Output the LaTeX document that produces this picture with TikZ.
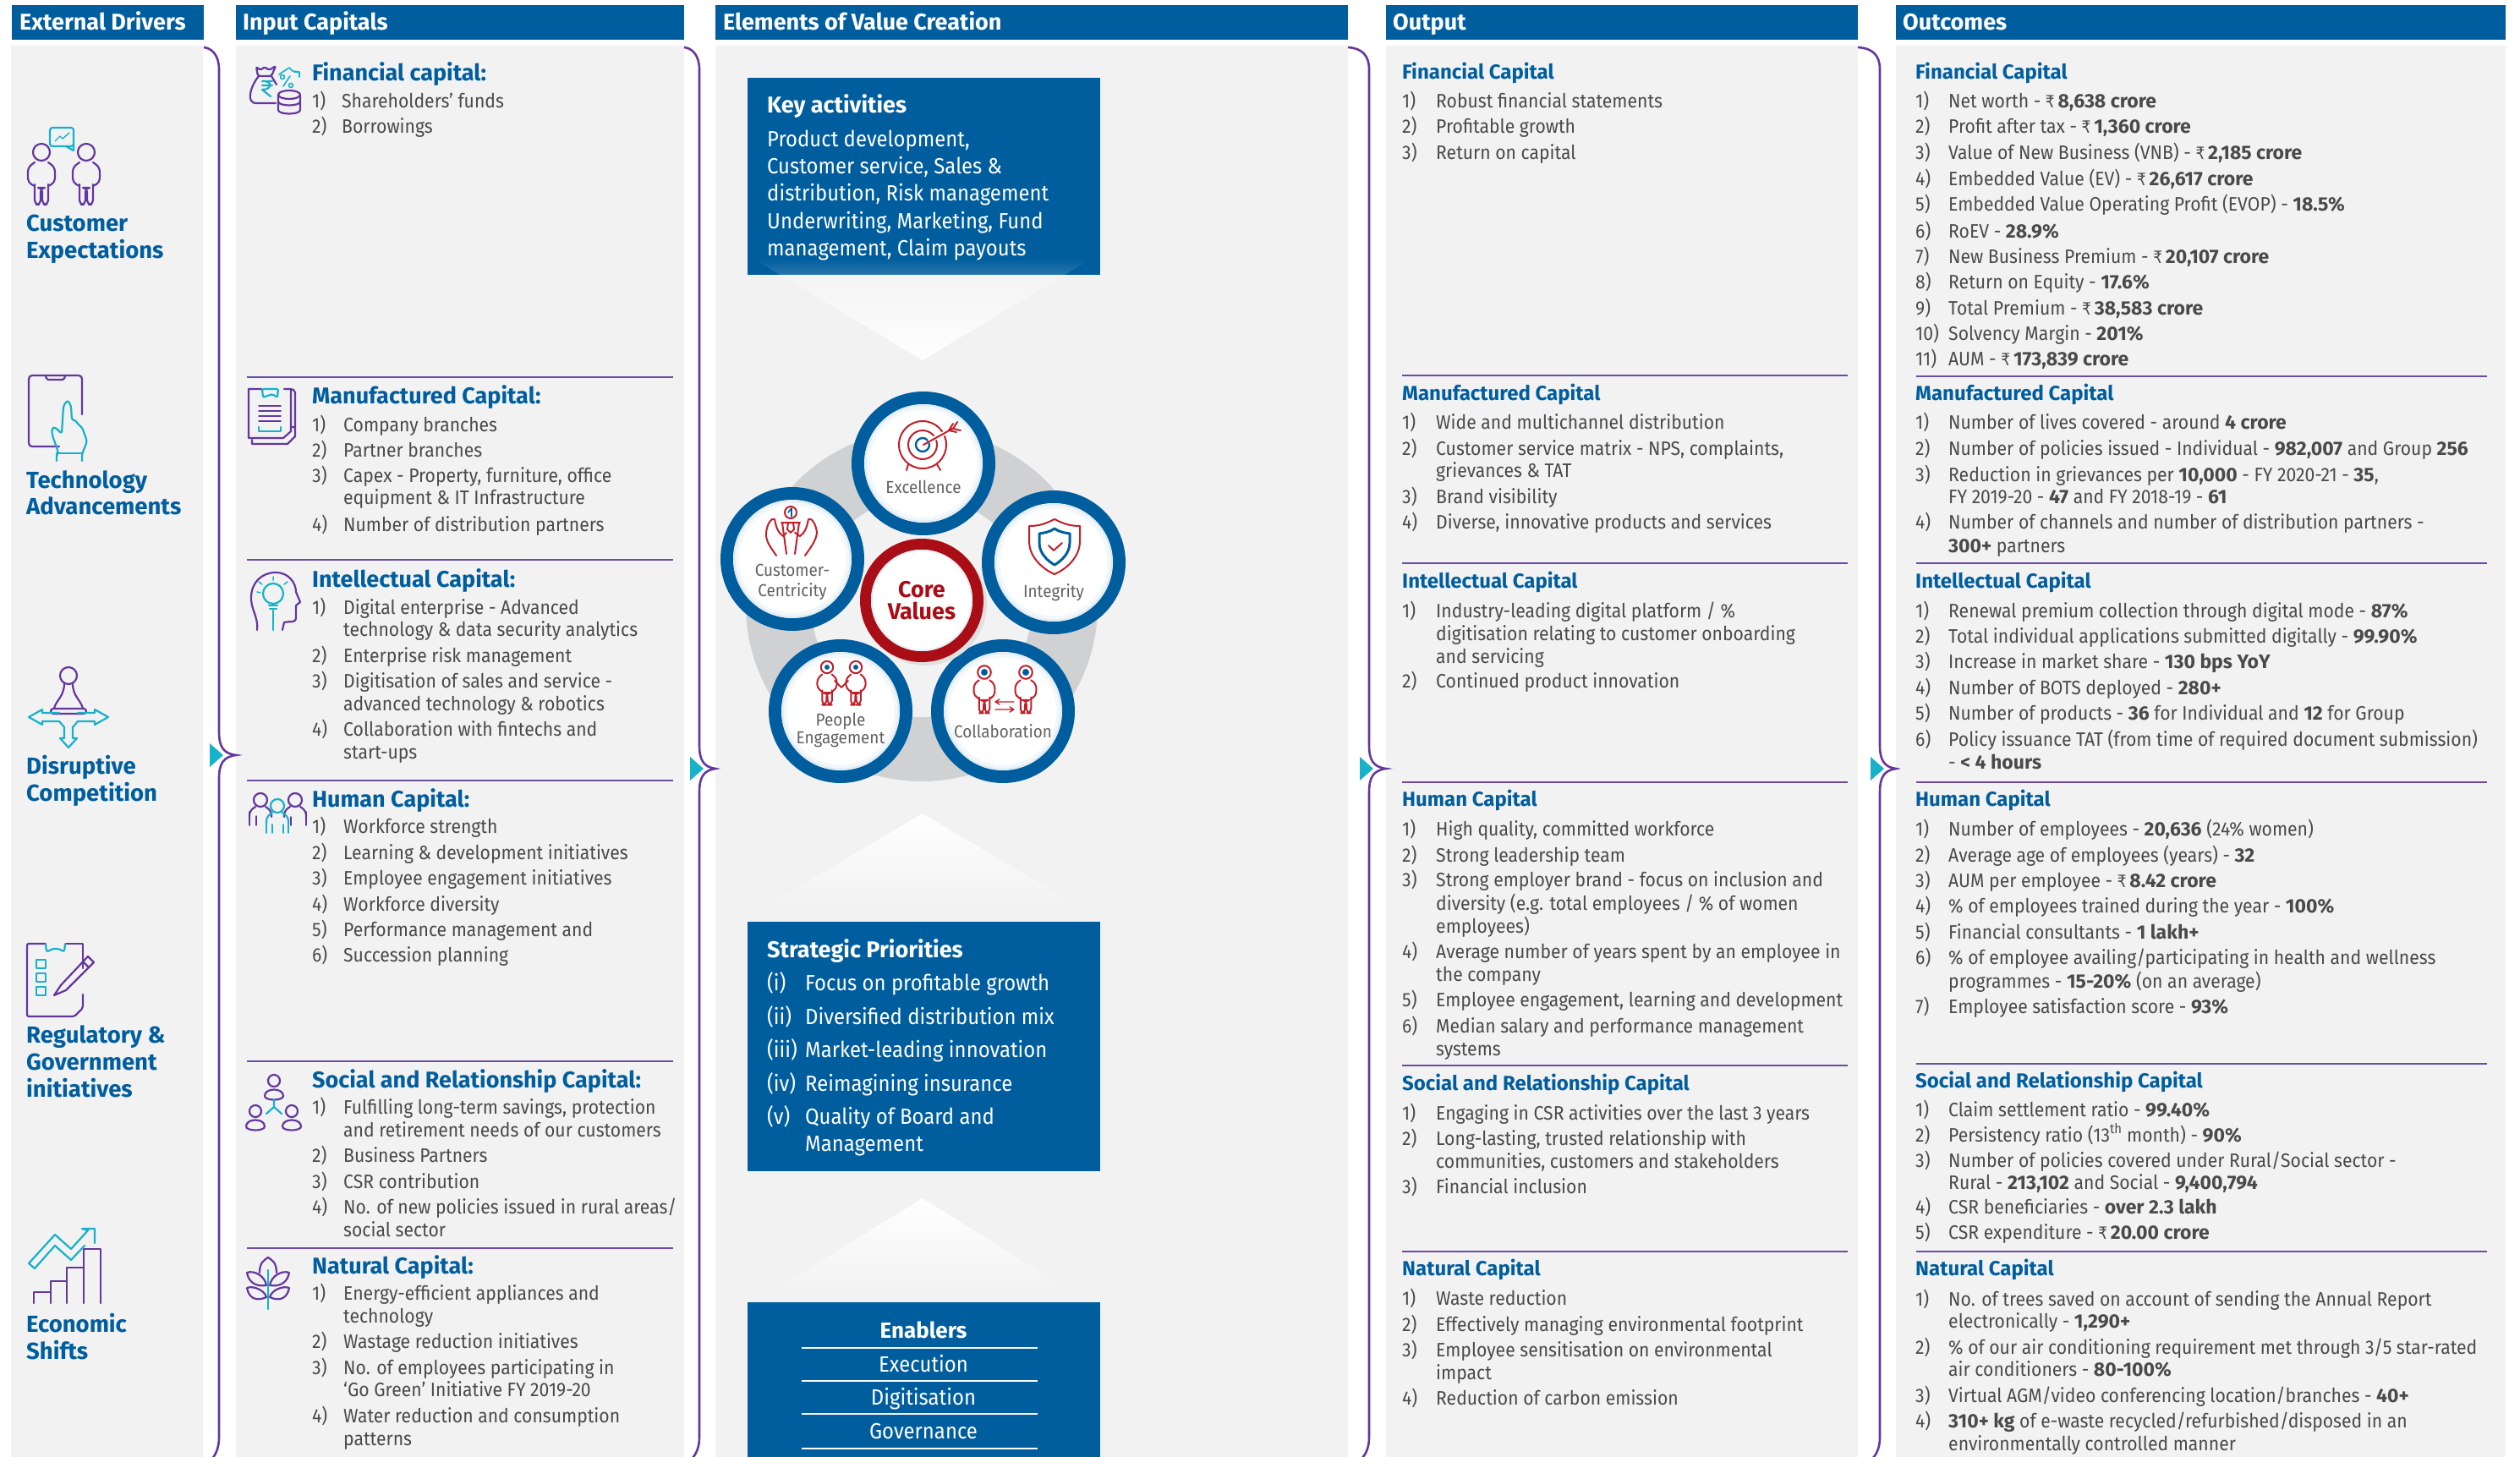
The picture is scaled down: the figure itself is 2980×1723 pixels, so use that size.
\documentclass[tikz,border=0pt]{standalone}
\usepackage{fontspec}
\setmainfont{Fira Sans}[UprightFeatures={FakeStretch=0.92},BoldFeatures={FakeStretch=1.0}]
\newfontfamily\rupfont{DejaVu Sans}[FakeStretch=0.85]
\usetikzlibrary{fadings}
\definecolor{hblue}{HTML}{005E9E}
\definecolor{panel}{HTML}{F2F2F2}
\definecolor{ipurple}{HTML}{64379F}
\definecolor{icyan}{HTML}{17B1C9}
\definecolor{ired}{HTML}{C0202A}
\definecolor{corered}{HTML}{A90D16}
\definecolor{bodytext}{HTML}{4A4A4A}
\definecolor{ringgrey}{HTML}{D0D1D3}
\definecolor{rulepur}{HTML}{6B4CA2}
\tikzfading[name=fadedown, top color=transparent!100, middle color=transparent!0, bottom color=transparent!0]
\tikzfading[name=fadeup, top color=transparent!0, middle color=transparent!0, bottom color=transparent!100]
\newcounter{ncnt}
\newcommand{\rs}{{\rupfont\fontsize{20}{20}\selectfont ₹}}
\newcommand{\capNX}{0}\newcommand{\capTX}{0}
\newcommand{\capH}[3]{\stepcounter{ncnt}\node[#1] (n\arabic{ncnt}) at (\capNX,#2+8) {#3};}
\newcommand{\capI}[3]{\stepcounter{ncnt}\node[bodytx] (n\arabic{ncnt}) at (\capNX,#1+8) {#2};\stepcounter{ncnt}\node[bodytx] (n\arabic{ncnt}) at (\capTX,#1+8) {#3};}
\newcommand{\capC}[2]{\stepcounter{ncnt}\node[bodytx] (n\arabic{ncnt}) at (\capTX,#1+8) {#2};}
\newcommand{\capR}[3]{\stepcounter{ncnt}\coordinate (n\arabic{ncnt}) at (#1,#3);\stepcounter{ncnt}\coordinate (n\arabic{ncnt}) at (#2,#3);\draw[rulestyle] (n\the\numexpr\value{ncnt}-1\relax) -- (n\arabic{ncnt});}
\newcommand{\brk}[5]{% x0, xv, xt, ytip, xbottom
 \coordinate (b#1) at (#1,56);
 \coordinate (t#1) at (#3,#4);
 \draw[purplebrace] (b#1) .. controls (#2-8,57) and (#2,66) .. (#2,82) -- (#2,#4-28) .. controls (#2,#4-10) and (#2+5,#4-2) .. (t#1) .. controls (#2+5,#4+2) and (#2,#4+10) .. (#2,#4+28) -- (#2,1700) .. controls (#2,1712) and (#2-4,1720) .. (#5,1725);
 \fill[icyan] (#2-11,#4-14) -- (#2+5,#4) -- (#2-11,#4+14) -- cycle;}
\tikzset{
 x=1pt,y=-1pt,
 hdrtx/.style={text=white,font=\fontsize{27}{27}\selectfont\bfseries,anchor=base west,inner sep=0},
 bodytx/.style={text=bodytext,font=\fontsize{23}{23}\selectfont,anchor=base west,inner sep=0},
 headA/.style={text=hblue,font=\fontsize{27}{27}\selectfont\bfseries,anchor=base west,inner sep=0},
 headB/.style={text=hblue,font=\fontsize{24}{24}\selectfont\bfseries,anchor=base west,inner sep=0},
 drv/.style={text=hblue,font=\fontsize{27.5}{27.5}\selectfont\bfseries,anchor=base west,inner sep=0},
 boxtx/.style={text=white,font=\fontsize{26}{26}\selectfont,anchor=base west,inner sep=0},
 boxhd/.style={text=white,font=\fontsize{27}{27}\selectfont\bfseries,anchor=base west,inner sep=0},
 stx/.style={text=white,font=\fontsize{26}{26}\selectfont,anchor=base west,inner sep=0},
 enb/.style={text=white,font=\fontsize{26}{26}\selectfont,anchor=base,inner sep=0},
 valtx/.style={text=black!62,font=\fontsize{20.5}{20.5}\selectfont,anchor=base,inner sep=0},
 rulestyle/.style={draw=rulepur,line width=1.6},
 purplebrace/.style={draw=ipurple,line width=2.6},
 pur/.style={draw=ipurple,line width=2.2,line join=round,line cap=round},
 cy/.style={draw=icyan,line width=2.2,line join=round,line cap=round},
 rd/.style={draw=ired,line width=2,line join=round,line cap=round},
 bl/.style={draw=hblue,line width=2.4,line join=round,line cap=round},
 pics/person/.style={code={
   \draw[pic actions] (0,0) circle (10);
   \draw[pic actions,rounded corners=5] (-8,38) -- (-8,62) -- (-1,62) -- (-1,42) -- (1,42) -- (1,62) -- (8,62) -- (8,38);
   \draw[pic actions,rounded corners=5] (-8,40) -- (-16,36) -- (-16,18) -- (-8,12) (8,12) -- (16,18) -- (16,36) -- (8,40);
 }},
 pics/bust/.style={code={
   \draw[pic actions] (0,0) circle (8);
   \draw[pic actions,rounded corners=5] (-13,20) -- (-13,13) -- (-6,8) (6,8) -- (13,13) -- (13,20);
 }},
 pics/smallp/.style={code={
   \draw[pic actions] (0,0) circle (7);
   \draw[pic actions] (-11,18) .. controls (-11,8) and (11,8) .. (11,18) .. controls (11,24) and (-11,24) .. (-11,18);
 }},
}
\begin{document}
\begin{tikzpicture}
\useasboundingbox (0,0) rectangle (2980,1723);
\fill[white] (0,0) rectangle (2980,1723);
% panels
\fill[panel] (13,54) rectangle (240,1723);
\fill[panel] (279,54) rectangle (809,1723);
\fill[panel] (846,54) rectangle (1594,1723);
\fill[panel] (1639,54) rectangle (2197,1723);
\fill[panel] (2242,54) rectangle (2963,1723);
% headers
\fill[hblue] (14,6) rectangle (241,47);
\fill[hblue] (279,6) rectangle (809,47);
\fill[hblue] (846,6) rectangle (1594,47);
\fill[hblue] (1639,6) rectangle (2197,47);
\fill[hblue] (2242,6) rectangle (2963,47);
\node[hdrtx] (h1) at (23,36) {External Drivers};
\node[hdrtx] (h2) at (287,36) {Input Capitals};
\node[hdrtx] (h3) at (855,36) {Elements of Value Creation};
\node[hdrtx] (h4) at (1647,36) {Output};
\node[hdrtx] (h5) at (2250,36) {Outcomes};
% braces
\brk{241}{259}{279}{893}{251}
\brk{809}{827}{846}{909}{818}
\brk{1594}{1619}{1639}{909}{1610}
\brk{2197}{2223}{2242}{909}{2214}
% external drivers
\node[drv] (d1a) at (31,273) {Customer};
\node[drv] (d1b) at (31,305) {Expectations};
\node[drv] (d2a) at (31,577) {Technology};
\node[drv] (d2b) at (31,608) {Advancements};
\node[drv] (d3a) at (31,915) {Disruptive};
\node[drv] (d3b) at (31,947) {Competition};
\node[drv] (d4a) at (31,1233) {Regulatory \&};
\node[drv] (d4b) at (31,1265) {Government};
\node[drv] (d4c) at (31,1297) {initiatives};
\node[drv] (d5a) at (31,1575) {Economic};
\node[drv] (d5b) at (31,1607) {Shifts};
% driver icons
\pic[pur] at (49,180) {person};
\pic[pur] at (102,180) {person};
\draw[cy,rounded corners=3] (59,151) rectangle (87,173);
\draw[cy] (78,173) -- (87,178) -- (87,170);
\draw[cy,line width=1.4] (65,167) -- (71,161) -- (74,164) -- (82,157);
\draw[pur,rounded corners=4] (70,528) -- (34,528) -- (34,444) -- (97,444) -- (97,490);
\draw[pur,rounded corners=2] (54,444) -- (55,449) -- (76,449) -- (77,444);
\draw[cy,rounded corners=3] (67,545) -- (67,537) -- (69,535) -- (62,515) -- (61,507) -- (65,505) -- (73,513) -- (75,480) -- (80,473) -- (84,480) -- (85,497) -- (90,497) -- (92,502) -- (97,505) -- (103,522) -- (97,537) -- (97,545);
\draw[cy] (68,536) -- (97,536);
% pawn
\draw[pur] (81,799) circle (10);
\draw[pur] (76,808) .. controls (76,824) and (66,828) .. (64,838) (86,808) .. controls (86,824) and (96,828) .. (98,838);
\draw[pur,rounded corners=3] (60,838) rectangle (102,844);
\draw[cy] (70,843) -- (50,843) -- (50,839) -- (34,848) -- (50,857) -- (50,853) -- (70,853) -- (76,860) -- (76,873) -- (71,873) -- (81,884) -- (91,873) -- (86,873) -- (86,860) -- (92,853) -- (112,853) -- (112,857) -- (128,848) -- (112,839) -- (112,843) -- (92,843);
% checklist
\draw[pur,rounded corners=2] (54,1116) -- (32,1116) -- (32,1202) -- (88,1202) -- (98,1192) -- (98,1176);
\draw[pur] (78,1116) -- (98,1116) -- (98,1145);
\draw[cy,rounded corners=3] (54,1116) -- (55,1126) -- (62,1122) -- (70,1122) -- (76,1126) -- (77,1116);
\draw[cy] (43,1135) rectangle (54,1145);
\draw[cy] (43,1151) rectangle (54,1161);
\draw[cy] (43,1167) rectangle (54,1177);
\draw[pur] (64,1177) -- (72,1165) -- (104,1131) -- (111,1138) -- (78,1171) -- cycle;
\draw[pur] (98,1137) -- (105,1144);
% economic
\draw[pur] (40,1541) -- (40,1528) -- (60,1528) (60,1541) -- (60,1515) -- (79,1515) (79,1541) -- (79,1499) -- (99,1499) (99,1541) -- (99,1477) -- (119,1477) -- (119,1541);
\draw[cy] (34,1494) -- (65,1460) -- (84,1477) -- (104,1455) -- (97,1453) -- (112,1453) -- (112,1470) (34,1494) -- (41,1500) -- (65,1473) -- (84,1490) -- (100,1473);
% input capitals
\renewcommand{\capNX}{369}\renewcommand{\capTX}{404}
\capH{headA}{88}{Financial capital:}
\capI{120}{1)}{Shareholders’ funds}
\capI{150}{2)}{Borrowings}
\capR{292}{796}{446}
\renewcommand{\capTX}{406}
\capH{headA}{469}{Manufactured Capital:}
\capI{502}{1)}{Company branches}
\capI{532}{2)}{Partner branches}
\capI{562}{3)}{Capex - Property, furniture, office}
\capC{588}{equipment \& IT Infrastructure}
\capI{620}{4)}{Number of distribution partners}
\capR{292}{796}{662}
\capH{headA}{686}{Intellectual Capital:}
\capI{718}{1)}{Digital enterprise - Advanced}
\capC{744}{technology \& data security analytics}
\capI{775}{2)}{Enterprise risk management}
\capI{805}{3)}{Digitisation of sales and service -}
\capC{832}{advanced technology \& robotics}
\capI{862}{4)}{Collaboration with fintechs and}
\capC{889}{start-ups}
\capR{292}{796}{923}
\capH{headA}{946}{Human Capital:}
\capI{977}{1)}{Workforce strength}
\capI{1008}{2)}{Learning \& development initiatives}
\capI{1038}{3)}{Employee engagement initiatives}
\capI{1069}{4)}{Workforce diversity}
\capI{1099}{5)}{Performance management and}
\capI{1129}{6)}{Succession planning}
\capR{292}{796}{1255}
\capH{headA}{1278}{Social and Relationship Capital:}
\capI{1309}{1)}{Fulfilling long-term savings, protection}
\capC{1336}{and retirement needs of our customers}
\capI{1366}{2)}{Business Partners}
\capI{1397}{3)}{CSR contribution}
\capI{1427}{4)}{No. of new policies issued in rural areas/}
\capC{1454}{social sector}
\capR{292}{796}{1476}
\capH{headA}{1498}{Natural Capital:}
\capI{1529}{1)}{Energy-efficient appliances and}
\capC{1556}{technology}
\capI{1586}{2)}{Wastage reduction initiatives}
\capI{1617}{3)}{No. of employees participating in}
\capC{1643}{‘Go Green’ Initiative FY 2019-20}
\capI{1674}{4)}{Water reduction and consumption}
\capC{1701}{patterns}
% input icons
\draw[pur,rounded corners=2] (303,79) -- (308,83) -- (313,79) -- (318,83) -- (326,78) -- (321,90) -- (305,90) -- cycle;
\draw[pur] (306,90) .. controls (296,102) and (290,123) .. (304,122) -- (326,122);
\draw[pur] (321,90) -- (327,100);
\draw[cy] (310,96) -- (322,96) (310,101) -- (322,101) (312,96) .. controls (322,96) and (322,106) .. (310,106) -- (320,114);
\draw[cy,line width=1.6] (335,102) -- (343,90) (334,91) circle (2.5) (344,101) circle (2.5) (330,88) -- (342,80) -- (346,84) -- (354,85) (354,85) -- (348,85) (354,85) -- (354,91);
\draw[pur] (342,112) ellipse (13 and 5);
\draw[pur] (329,112) -- (329,130) .. controls (329,136) and (355,136) .. (355,130) -- (355,112) (329,120) .. controls (329,126) and (355,126) .. (355,120);
% manufactured
\draw[pur] (309,460) -- (294,460) -- (294,518) -- (335,518) -- (344,510) -- (344,460) -- (336,460);
\draw[pur] (344,505) -- (349,505) -- (349,516) -- (340,525) -- (298,525) -- (298,520);
\draw[pur,rounded corners=2] (349,505) -- (349,462) -- (344,460);
\draw[cy,rounded corners=2] (310,460) -- (311,470) -- (322,466) -- (328,470) -- (329,460) -- cycle;
\draw[pur,line width=1.5] (306,480) -- (332,480) (306,486) -- (332,486) (306,492) -- (332,492) (306,498) -- (332,498);
\draw[cy] (306,505) -- (306,510) -- (332,510) -- (332,505);
% intellectual
\draw[pur] (304,745) .. controls (306,730) and (296,720) .. (297,705) .. controls (298,688) and (310,677) .. (326,677) .. controls (342,677) and (350,690) .. (350,700) -- (355,712) -- (350,716) -- (350,730) .. controls (350,738) and (342,734) .. (336,736) -- (334,745);
\draw[cy] (323,702) circle (12);
\draw[cy] (318,716) -- (328,716) (319,720) -- (327,720) (323,722) -- (323,745);
\draw[cy,line width=1.5] (323,686) -- (323,682) (310,691) -- (306,688) (336,691) -- (340,688) (304,700) -- (308,701);
% human
\pic[pur] at (308,946) {bust};
\pic[pur] at (349,946) {bust};
\pic[cy] at (328,953) {bust};
\draw[pur,line width=1.5] (295,960) -- (295,976) (303,965) -- (303,976) (344,976) -- (344,966) (362,960) -- (362,976);
\draw[cy,line width=1.5] (315,972) -- (315,985) (322,975) -- (322,985) (335,975) -- (335,985) (341,972) -- (341,985);
% social
\pic[pur] at (324,1278) {smallp};
\pic[pur] at (302,1314) {smallp};
\pic[pur] at (345,1314) {smallp};
\draw[cy] (324,1300) -- (324,1309) -- (315,1317) (324,1309) -- (333,1317);
% natural
\draw[pur] (307,1505) .. controls (307,1492) and (313,1490) .. (317,1487) .. controls (321,1490) and (327,1492) .. (327,1505);
\draw[pur] (292,1505) .. controls (300,1502) and (313,1508) .. (315,1520) .. controls (302,1522) and (294,1516) .. (292,1505);
\draw[pur] (342,1505) .. controls (334,1502) and (321,1508) .. (319,1520) .. controls (332,1522) and (340,1516) .. (342,1505);
\draw[pur] (292,1523) .. controls (300,1520) and (313,1526) .. (315,1534) .. controls (302,1540) and (294,1534) .. (292,1523);
\draw[pur] (342,1523) .. controls (334,1520) and (321,1526) .. (319,1534) .. controls (332,1540) and (340,1534) .. (342,1523);
\draw[cy] (317,1502) -- (317,1548);
% elements - arrows
\fill[hblue] (884,92) rectangle (1301,325);
\fill[white,path fading=fadedown] (891,306) -- (1291,306) -- (1091,426) -- cycle;
\fill[white,path fading=fadeup] (1091,962) -- (1284,1077) -- (897,1077) -- cycle;
\fill[white,path fading=fadeup] (1091,1417) -- (1284,1537) -- (897,1537) -- cycle;
\node[boxhd] (ka) at (907,134) {Key activities};
\node[boxtx] (ka1) at (907,174) {Product development,};
\node[boxtx] (ka2) at (907,206) {Customer service, Sales \&};
\node[boxtx] (ka3) at (907,238) {distribution, Risk management};
\node[boxtx] (ka4) at (907,270) {Underwriting, Marketing, Fund};
\node[boxtx] (ka5) at (907,302) {management, Claim payouts};
\fill[hblue] (884,1090) rectangle (1301,1385);
\node[boxhd] (sp) at (907,1132) {Strategic Priorities};
\node[stx] (s1a) at (907,1171) {(i)};\node[stx] (s1) at (952,1171) {Focus on profitable growth};
\node[stx] (s2a) at (907,1211) {(ii)};\node[stx] (s2) at (952,1211) {Diversified distribution mix};
\node[stx] (s3a) at (907,1250) {(iii)};\node[stx] (s3) at (952,1250) {Market-leading innovation};
\node[stx] (s4a) at (907,1290) {(iv)};\node[stx] (s4) at (952,1290) {Reimagining insurance};
\node[stx] (s5a) at (907,1329) {(v)};\node[stx] (s5) at (952,1329) {Quality of Board and};
\node[stx] (s6) at (952,1361) {Management};
\fill[hblue] (884,1540) rectangle (1301,1723);
\node[enb,font=\fontsize{26}{26}\selectfont\bfseries] (en) at (1092,1582) {Enablers};
\node[enb] (en1) at (1092,1622) {Execution};
\node[enb] (en2) at (1092,1661) {Digitisation};
\node[enb] (en3) at (1092,1701) {Governance};
\coordinate (r1a) at (948,1594);\coordinate (r1b) at (1227,1594);
\coordinate (r2a) at (948,1633);\coordinate (r2b) at (1227,1633);
\coordinate (r3a) at (948,1672);\coordinate (r3b) at (1227,1672);
\coordinate (r4a) at (948,1713);\coordinate (r4b) at (1227,1713);
\draw[white,line width=1.4] (r1a) -- (r1b) (r2a) -- (r2b) (r3a) -- (r3b) (r4a) -- (r4b);
% core values ring
\fill[ringgrey] (1090,716) circle (208);
\fill[panel] (1090,718) circle (130);
\foreach \cx/\cy in {1092/548,937/661,1246/665,994/841,1186/841}{
 \fill[hblue] (\cx,\cy) circle (85);
 \fill[white] (\cx,\cy) circle (70);
 \draw[hblue!12!white,line width=2.5] (\cx,\cy) circle (68.5);
 \draw[hblue!5!white,line width=4] (\cx,\cy) circle (65.5);
}
\fill[black!12] (1094,714) circle (73);
\fill[corered] (1090,710) circle (73);
\fill[white] (1090,710) circle (60);
\draw[hblue!10!white,line width=2] (1090,710) circle (59);
\node[valtx] (c1) at (1092,583) {Excellence};
\node[valtx] (c2a) at (937,681) {Customer-};
\node[valtx] (c2b) at (937,705) {Centricity};
\node[valtx] (c3) at (1246,706) {Integrity};
\node[valtx] (c4a) at (994,858) {People};
\node[valtx] (c4b) at (994,879) {Engagement};
\node[valtx] (c5) at (1186,872) {Collaboration};
\node[enb,text=corered,font=\fontsize{27}{27}\selectfont\bfseries] (core1) at (1090,706) {Core};
\node[enb,text=corered,font=\fontsize{27}{27}\selectfont\bfseries] (core2) at (1090,732) {Values};
% excellence icon
\draw[rd] (1091,526) circle (28);
\draw[rd] (1091,526) circle (17);
\draw[bl] (1091,526) circle (8);
\draw[white,line width=5] (1098,522) -- (1125,508);
\draw[rd] (1092,526) -- (1128,506) (1127,501) -- (1122,509) -- (1131,511) (1132,499) -- (1127,507) -- (1136,509);
\draw[rd] (1074,549) -- (1072,556) (1108,549) -- (1112,556);
% customer icon
\draw[rd] (935,606) circle (7);
\draw[bl,line width=1.6] (932,606) -- (936,601) -- (936,611);
\draw[rd] (932,618) -- (938,618) -- (939,626) -- (935,630) -- (931,626) -- cycle;
\draw[rd] (924,618) -- (946,618) (925,618) -- (930,655) (945,618) -- (940,655);
\draw[rd] (918,657) .. controls (912,648) and (905,640) .. (906,630) .. controls (907,620) and (912,612) .. (916,614) .. controls (918,624) and (920,630) .. (926,634) -- (930,630);
\draw[rd] (952,657) .. controls (958,648) and (965,640) .. (966,630) .. controls (965,620) and (960,612) .. (956,614) .. controls (954,624) and (952,630) .. (946,634) -- (940,630);
% integrity icon
\draw[rd] (1247,614) .. controls (1235,620) and (1228,622) .. (1217,622) -- (1217,640) .. controls (1217,660) and (1235,674) .. (1247,679) .. controls (1259,674) and (1277,660) .. (1277,640) -- (1277,622) .. controls (1266,622) and (1259,620) .. (1247,614);
\draw[bl,line width=3] (1247,625) .. controls (1240,630) and (1234,630) .. (1229,631) -- (1229,642) .. controls (1229,655) and (1240,664) .. (1247,668) .. controls (1254,664) and (1265,655) .. (1265,642) -- (1265,631) .. controls (1260,630) and (1254,630) .. (1247,625);
\draw[rd] (1240,645) -- (1246,651) -- (1256,642);
% people icon
\pic[rd,scale=.72] at (978,789) {person};
\pic[rd,scale=.72] at (1012,789) {person};
\draw[rd] (987,805) -- (995,813) -- (1003,805);
\fill[hblue] (978,789) circle (3) (1012,789) circle (3);
% collaboration icon
\pic[rd,scale=.78] at (1164,795) {person};
\pic[rd,scale=.78] at (1213,795) {person};
\fill[hblue] (1164,795) circle (4) (1213,795) circle (4);
\draw[rd,line width=1.4] (1177,830) -- (1199,830) (1177,830) -- (1182,827) (1177,830) -- (1182,833) (1177,839) -- (1199,839) (1199,839) -- (1194,836) (1199,839) -- (1194,842);
% output
\renewcommand{\capNX}{1658}\renewcommand{\capTX}{1698}
\capH{headB}{86}{Financial Capital}
\capI{120}{1)}{Robust financial statements}
\capI{150}{2)}{Profitable growth}
\capI{181}{3)}{Return on capital}
\capR{1658}{2185}{444}
\capH{headB}{465}{Manufactured Capital}
\capI{499}{1)}{Wide and multichannel distribution}
\capI{530}{2)}{Customer service matrix - NPS, complaints,}
\capC{556}{grievances \& TAT}
\capI{587}{3)}{Brand visibility}
\capI{617}{4)}{Diverse, innovative products and services}
\capR{1658}{2185}{666}
\capH{headB}{687}{Intellectual Capital}
\capI{722}{1)}{Industry-leading digital platform / \%}
\capC{749}{digitisation relating to customer onboarding}
\capC{776}{and servicing}
\capI{805}{2)}{Continued product innovation}
\capR{1658}{2185}{925}
\capH{headB}{945}{Human Capital}
\capI{980}{1)}{High quality, committed workforce}
\capI{1011}{2)}{Strong leadership team}
\capI{1040}{3)}{Strong employer brand - focus on inclusion and}
\capC{1068}{diversity (e.g. total employees / \% of women}
\capC{1095}{employees)}
\capI{1125}{4)}{Average number of years spent by an employee in}
\capC{1152}{the company}
\capI{1182}{5)}{Employee engagement, learning and development}
\capI{1213}{6)}{Median salary and performance management}
\capC{1240}{systems}
\capR{1658}{2185}{1260}
\capH{headB}{1281}{Social and Relationship Capital}
\capI{1316}{1)}{Engaging in CSR activities over the last 3 years}
\capI{1346}{2)}{Long-lasting, trusted relationship with}
\capC{1373}{communities, customers and stakeholders}
\capI{1403}{3)}{Financial inclusion}
\capR{1658}{2185}{1480}
\capH{headB}{1500}{Natural Capital}
\capI{1535}{1)}{Waste reduction}
\capI{1566}{2)}{Effectively managing environmental footprint}
\capI{1596}{3)}{Employee sensitisation on environmental}
\capC{1623}{impact}
\capI{1653}{4)}{Reduction of carbon emission}
% outcomes
\renewcommand{\capNX}{2265}\renewcommand{\capTX}{2304}
\capH{headB}{86}{Financial Capital}
\capI{120}{1)}{Net worth - \rs\,\textbf{8,638 crore}}
\capI{150}{2)}{Profit after tax - \rs\,\textbf{1,360 crore}}
\capI{181}{3)}{Value of New Business (VNB) - \rs\,\textbf{2,185 crore}}
\capI{212}{4)}{Embedded Value (EV) - \rs\,\textbf{26,617 crore}}
\capI{242}{5)}{Embedded Value Operating Profit (EVOP) - \textbf{18.5\%}}
\capI{273}{6)}{RoEV - \textbf{28.9\%}}
\capI{303}{7)}{New Business Premium - \rs\,\textbf{20,107 crore}}
\capI{333}{8)}{Return on Equity - \textbf{17.6\%}}
\capI{364}{9)}{Total Premium - \rs\,\textbf{38,583 crore}}
\capI{394}{10)}{Solvency Margin - \textbf{201\%}}
\capI{424}{11)}{AUM - \rs\,\textbf{173,839 crore}}
\capR{2266}{2941}{445}
\capH{headB}{465}{Manufactured Capital}
\capI{499}{1)}{Number of lives covered - around \textbf{4 crore}}
\capI{530}{2)}{Number of policies issued - Individual - \textbf{982,007} and Group \textbf{256}}
\capI{561}{3)}{Reduction in grievances per \textbf{10,000} - FY 2020-21 - \textbf{35},}
\capC{587}{FY 2019-20 - \textbf{47} and FY 2018-19 - \textbf{61}}
\capI{617}{4)}{Number of channels and number of distribution partners -}
\capC{645}{\textbf{300+} partners}
\capR{2266}{2941}{666}
\capH{headB}{687}{Intellectual Capital}
\capI{722}{1)}{Renewal premium collection through digital mode - \textbf{87\%}}
\capI{752}{2)}{Total individual applications submitted digitally - \textbf{99.90\%}}
\capI{782}{3)}{Increase in market share - \textbf{130 bps YoY}}
\capI{813}{4)}{Number of BOTS deployed - \textbf{280+}}
\capI{843}{5)}{Number of products - \textbf{36} for Individual and \textbf{12} for Group}
\capI{874}{6)}{Policy issuance TAT (from time of required document submission)}
\capC{901}{- \textbf{< 4 hours}}
\capR{2266}{2941}{925}
\capH{headB}{945}{Human Capital}
\capI{980}{1)}{Number of employees - \textbf{20,636} (24\% women)}
\capI{1011}{2)}{Average age of employees (years) - \textbf{32}}
\capI{1041}{3)}{AUM per employee - \rs\,\textbf{8.42 crore}}
\capI{1071}{4)}{\% of employees trained during the year - \textbf{100\%}}
\capI{1102}{5)}{Financial consultants - \textbf{1 lakh+}}
\capI{1132}{6)}{\% of employee availing/participating in health and wellness}
\capC{1160}{programmes - \textbf{15-20\%} (on an average)}
\capI{1190}{7)}{Employee satisfaction score - \textbf{93\%}}
\capR{2266}{2941}{1258}
\capH{headB}{1278}{Social and Relationship Capital}
\capI{1312}{1)}{Claim settlement ratio - \textbf{99.40\%}}
\capI{1342}{2)}{Persistency ratio (13\textsuperscript{th} month) - \textbf{90\%}}
\capI{1372}{3)}{Number of policies covered under Rural/Social sector -}
\capC{1398}{Rural - \textbf{213,102} and Social - \textbf{9,400,794}}
\capI{1427}{4)}{CSR beneficiaries - \textbf{over 2.3 lakh}}
\capI{1457}{5)}{CSR expenditure - \rs\,\textbf{20.00 crore}}
\capR{2266}{2941}{1480}
\capH{headB}{1500}{Natural Capital}
\capI{1536}{1)}{No. of trees saved on account of sending the Annual Report}
\capC{1562}{electronically - \textbf{1,290+}}
\capI{1593}{2)}{\% of our air conditioning requirement met through 3/5 star-rated}
\capC{1619}{air conditioners - \textbf{80-100\%}}
\capI{1650}{3)}{Virtual AGM/video conferencing location/branches - \textbf{40+}}
\capI{1680}{4)}{\textbf{310+ kg} of e-waste recycled/refurbished/disposed in an}
\capC{1707}{environmentally controlled manner}
\end{tikzpicture}
\end{document}
